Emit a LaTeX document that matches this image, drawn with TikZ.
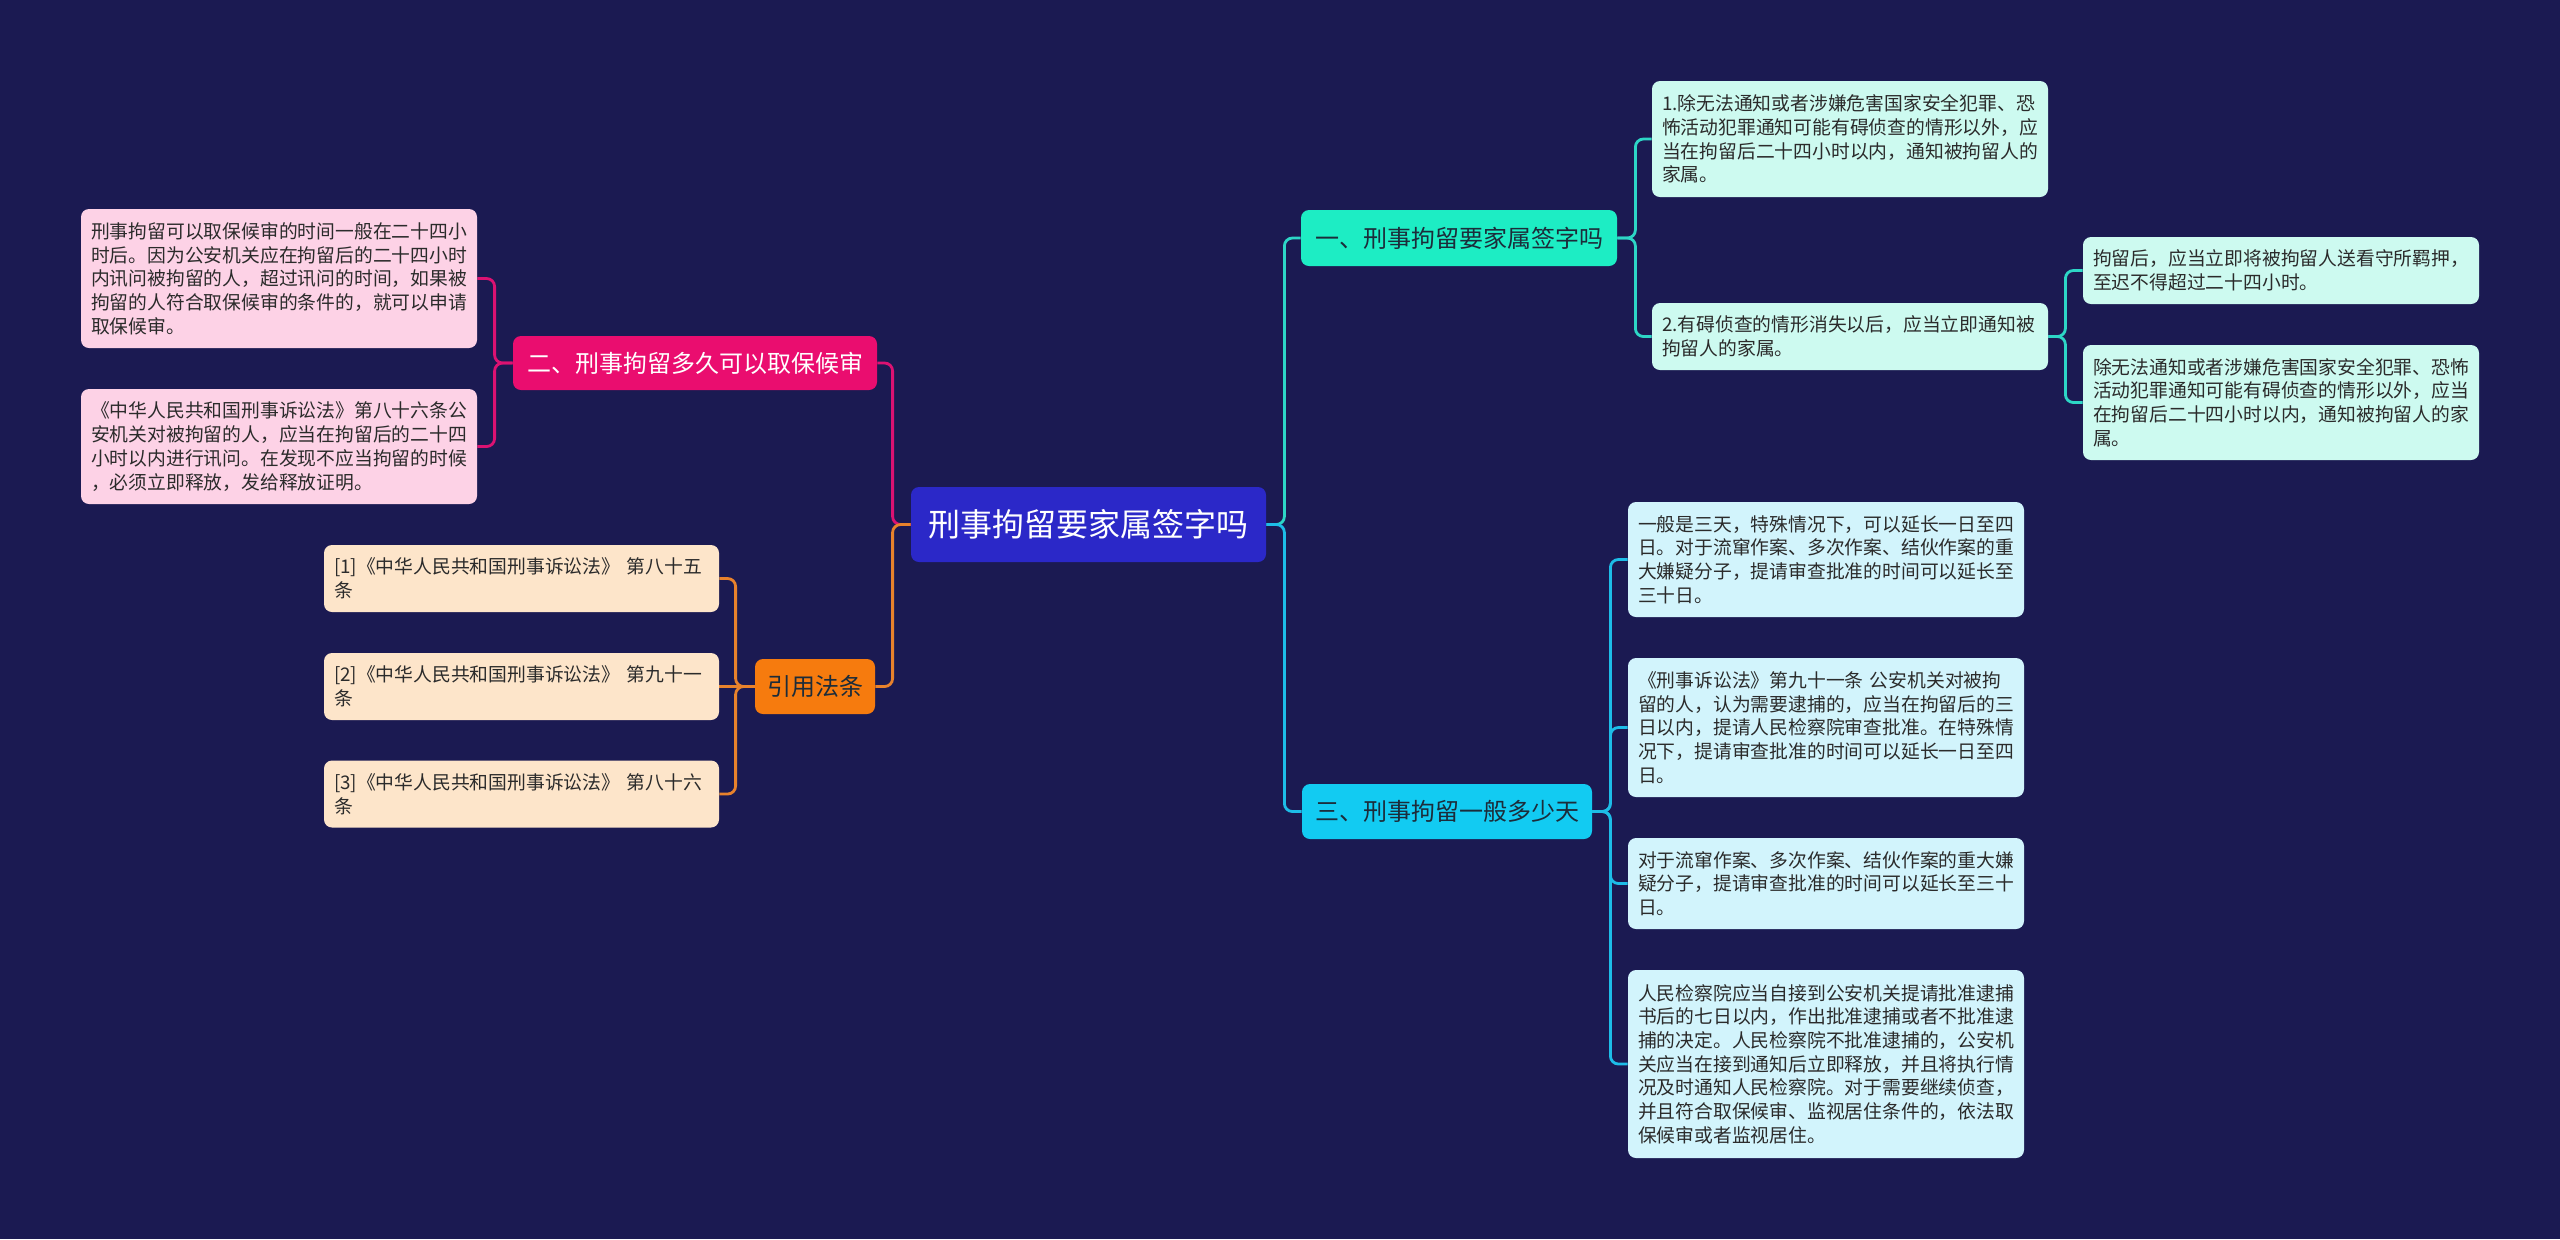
\documentclass[tikz,border=0pt]{standalone}
\usepackage{fontspec}
\newfontfamily\cjk{Noto Sans CJK SC}
\usetikzlibrary{positioning}
\definecolor{bgc}{HTML}{1B1A52}
\definecolor{centerfill}{HTML}{2B28C8}
\definecolor{magfill}{HTML}{EA0D6F}
\definecolor{pinkbox}{HTML}{FDD2E6}
\definecolor{orgfill}{HTML}{F67B0E}
\definecolor{peachbox}{HTML}{FDE5CA}
\definecolor{tealfill}{HTML}{1DEDC4}
\definecolor{mintbox}{HTML}{CDFAF0}
\definecolor{bluefill}{HTML}{12CBF2}
\definecolor{cyanbox}{HTML}{D2F4FC}
\definecolor{cmag}{HTML}{DC1272}
\definecolor{corg}{HTML}{E8822C}
\definecolor{cteal}{HTML}{2DD6C6}
\definecolor{cblue}{HTML}{1DBDE8}
\definecolor{txtdark}{HTML}{2B2B2B}
\definecolor{brdark}{HTML}{1C2C3A}
\pgfdeclarelayer{backfill}
\pgfdeclarelayer{lines}
\pgfsetlayers{backfill,lines,main}
\tikzset{
  leaf/.style={rectangle, rounded corners=4pt, text width=188pt, align=left,
    inner xsep=5pt, inner ysep=0pt, text=txtdark,
    font=\cjk\fontsize{9.4pt}{11.85pt}\selectfont},
  branch/.style={rectangle, rounded corners=4pt, inner sep=0pt, align=center,
    font=\cjk\fontsize{12pt}{14pt}\selectfont},
  conn/.style={line width=1.4pt, rounded corners=4pt}
}
\begin{document}
\begin{tikzpicture}[x=0.5pt,y=-0.5pt]
\useasboundingbox (0,0) rectangle (2560,1239);
\begin{pgfonlayer}{backfill}
\fill[bgc] (0,0) rectangle (2560,1239);
\end{pgfonlayer}

% center
\node[branch, fill=centerfill, text=white, minimum width=177.5pt, minimum height=37.5pt,
  font=\cjk\fontsize{16pt}{18pt}\selectfont] (center) at (1088.5,524.5) {刑事拘留要家属签字吗};

% left branches
\node[branch, fill=magfill, text=white, minimum width=182pt, minimum height=27pt] (n2) at (695,363) {二、刑事拘留多久可以取保候审};
\node[branch, fill=orgfill, text=brdark, minimum width=60pt, minimum height=27.5pt] (cite) at (815,686.5) {引用法条};

\node[leaf, fill=pinkbox, minimum height=69.5pt] (p1) at (279,278.5) {刑事拘留可以取保候审的时间一般在二十四小\\时后。因为公安机关应在拘留后的二十四小时\\内讯问被拘留的人，超过讯问的时间，如果被\\拘留的人符合取保候审的条件的，就可以申请\\取保候审。};
\node[leaf, fill=pinkbox, minimum height=57.5pt] (p2) at (279,446.5) {《中华人民共和国刑事诉讼法》第八十六条公\\安机关对被拘留的人，应当在拘留后的二十四\\小时以内进行讯问。在发现不应当拘留的时候\\，必须立即释放，发给释放证明。};

\node[leaf, fill=peachbox, minimum height=33.5pt, text width=187.5pt] (r1) at (521.5,578.5) {[1]《中华人民共和国刑事诉讼法》 第八十五\\条};
\node[leaf, fill=peachbox, minimum height=33.5pt, text width=187.5pt] (r2) at (521.5,686.5) {[2]《中华人民共和国刑事诉讼法》 第九十一\\条};
\node[leaf, fill=peachbox, minimum height=33.5pt, text width=187.5pt] (r3) at (521.5,794) {[3]《中华人民共和国刑事诉讼法》 第八十六\\条};

% right branches
\node[branch, fill=tealfill, text=brdark, minimum width=158pt, minimum height=28pt] (n1) at (1459,238) {一、刑事拘留要家属签字吗};
\node[branch, fill=bluefill, text=brdark, minimum width=145pt, minimum height=27.5pt] (n3) at (1447,811.5) {三、刑事拘留一般多少天};

\node[leaf, fill=mintbox, minimum height=58pt] (a1) at (1850,139) {1.除无法通知或者涉嫌危害国家安全犯罪、恐\\怖活动犯罪通知可能有碍侦查的情形以外，应\\当在拘留后二十四小时以内，通知被拘留人的\\家属。};
\node[leaf, fill=mintbox, minimum height=33.5pt] (a2) at (1850,336.5) {2.有碍侦查的情形消失以后，应当立即通知被\\拘留人的家属。};
\node[leaf, fill=mintbox, minimum height=33.5pt] (b1) at (2281,270.5) {拘留后，应当立即将被拘留人送看守所羁押，\\至迟不得超过二十四小时。};
\node[leaf, fill=mintbox, minimum height=57.5pt] (b2) at (2281,402.5) {除无法通知或者涉嫌危害国家安全犯罪、恐怖\\活动犯罪通知可能有碍侦查的情形以外，应当\\在拘留后二十四小时以内，通知被拘留人的家\\属。};

\node[leaf, fill=cyanbox, minimum height=57.5pt] (c1) at (1826,559.5) {一般是三天，特殊情况下，可以延长一日至四\\日。对于流窜作案、多次作案、结伙作案的重\\大嫌疑分子，提请审查批准的时间可以延长至\\三十日。};
\node[leaf, fill=cyanbox, minimum height=69.5pt] (c2) at (1826,727.5) {《刑事诉讼法》第九十一条 公安机关对被拘\\留的人，认为需要逮捕的，应当在拘留后的三\\日以内，提请人民检察院审查批准。在特殊情\\况下，提请审查批准的时间可以延长一日至四\\日。};
\node[leaf, fill=cyanbox, minimum height=45.5pt] (c3) at (1826,883.5) {对于流窜作案、多次作案、结伙作案的重大嫌\\疑分子，提请审查批准的时间可以延长至三十\\日。};
\node[leaf, fill=cyanbox, minimum height=94pt] (c4) at (1826,1064) {人民检察院应当自接到公安机关提请批准逮捕\\书后的七日以内，作出批准逮捕或者不批准逮\\捕的决定。人民检察院不批准逮捕的，公安机\\关应当在接到通知后立即释放，并且将执行情\\况及时通知人民检察院。对于需要继续侦查，\\并且符合取保候审、监视居住条件的，依法取\\保候审或者监视居住。};

\begin{pgfonlayer}{lines}
\draw[conn, cmag] (center.west) -- ++(-18,0) |- (n2.east);
\draw[conn, corg] (center.west) -- ++(-18,0) |- (cite.east);
\draw[conn, cmag] (n2.west) -- ++(-18,0) |- (p1.east);
\draw[conn, cmag] (n2.west) -- ++(-18,0) |- (p2.east);
\draw[conn, corg] (cite.west) -- ++(-19,0) |- (r1.east);
\draw[conn, corg] (cite.west) -- (r2.east);
\draw[conn, corg] (cite.west) -- ++(-19,0) |- (r3.east);

\draw[conn, cteal] (center.east) -- ++(18,0) |- (n1.west);
\draw[conn, cblue] (center.east) -- ++(18,0) |- (n3.west);
\draw[conn, cteal] (n1.east) -- ++(18,0) |- (a1.west);
\draw[conn, cteal] (n1.east) -- ++(18,0) |- (a2.west);
\draw[conn, cteal] (a2.east) -- ++(17,0) |- (b1.west);
\draw[conn, cteal] (a2.east) -- ++(17,0) |- (b2.west);
\draw[conn, cblue] (n3.east) -- ++(18,0) |- (c1.west);
\draw[conn, cblue] (n3.east) -- ++(18,0) |- (c2.west);
\draw[conn, cblue] (n3.east) -- ++(18,0) |- (c3.west);
\draw[conn, cblue] (n3.east) -- ++(18,0) |- (c4.west);
\end{pgfonlayer}
\end{tikzpicture}
\end{document}
